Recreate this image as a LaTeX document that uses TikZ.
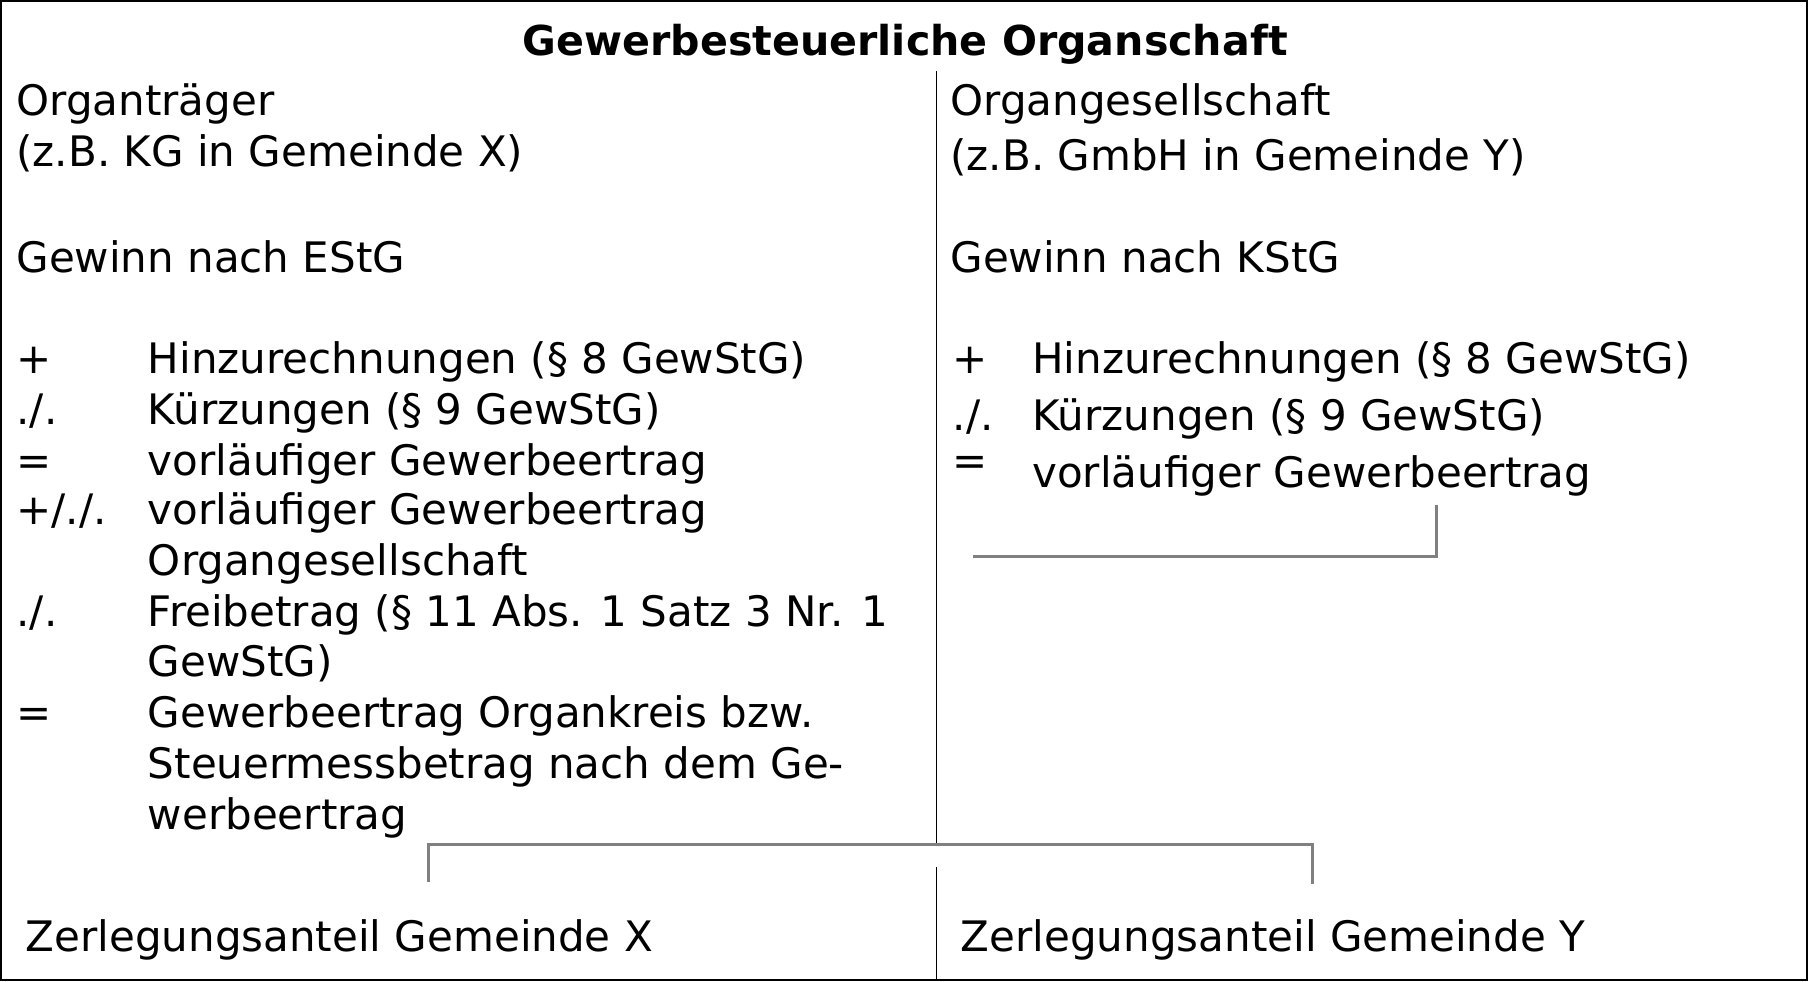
\documentclass[tikz,border=0pt]{standalone}
\usepackage{fontspec}
\setmainfont{DejaVu Sans}
\begin{document}
\begin{tikzpicture}[x=0.5766pt,y=-0.5766pt,
  txt/.style={anchor=base west,inner sep=0pt,font=\fontsize{21}{25.4}\selectfont},
  ttl/.style={anchor=base,inner sep=0pt,font=\fontsize{20.6}{25.4}\selectfont\bfseries},
  divider/.style={draw=black,line width=0.6pt},
  bracket/.style={draw=black!50,line width=1.5pt},
  frame/.style={draw=black,line width=1.2pt}]
\useasboundingbox (0,0) rectangle (1568,851);
\draw[frame] (1,1) rectangle (1567,850);
% title
\node[ttl] (title) at (785,48) {Gewerbesteuerliche Organschaft};
% left column
\node[txt] (ot) at (14,100) {Organträger};
\node[txt] (otx) at (14,144) {(z.B. KG in Gemeinde X)};
\node[txt] (estg) at (14,236) {Gewinn nach EStG};
\node[txt] (ls1) at (14,324) {+};
\node[txt] (lt1) at (128,324) {Hinzurechnungen (§ 8 GewStG)};
\node[txt] (ls2) at (14,368) {./.};
\node[txt] (lt2) at (128,368) {Kürzungen (§ 9 GewStG)};
\node[txt] (ls3) at (14,412) {=};
\node[txt] (lt3) at (128,412) {vorläufiger Gewerbeertrag};
\node[txt] (ls4) at (14,455) {+/./.};
\node[txt] (lt4) at (128,455) {vorläufiger Gewerbeertrag};
\node[txt] (lt4b) at (128,499) {Organgesellschaft};
\node[txt] (ls5) at (14,543) {./.};
\node[txt] (lt5) at (128,543) {Freibetrag (§ 11 Abs. 1 Satz 3 Nr. 1};
\node[txt] (lt5b) at (128,587) {GewStG)};
\node[txt] (ls6) at (14,631) {=};
\node[txt] (lt6) at (128,631) {Gewerbeertrag Organkreis bzw.};
\node[txt] (lt6b) at (128,675) {Steuermessbetrag nach dem Ge-};
\node[txt] (lt6c) at (128,719) {werbeertrag};
% right column
\node[txt] (og) at (824,100) {Organgesellschaft};
\node[txt] (ogy) at (824,148) {(z.B. GmbH in Gemeinde Y)};
\node[txt] (kstg) at (824,236) {Gewinn nach KStG};
\node[txt] (rs1) at (826,324) {+};
\node[txt] (rt1) at (895,324) {Hinzurechnungen (§ 8 GewStG)};
\node[txt] (rs2) at (826,373) {./.};
\node[txt] (rt2) at (895,373) {Kürzungen (§ 9 GewStG)};
\node[txt] (rs3) at (826,412) {=};
\node[txt] (rt3) at (895,423) {vorläufiger Gewerbeertrag};
% bottom
\node[txt] (zx) at (22,825) {Zerlegungsanteil Gemeinde X};
\node[txt] (zy) at (833,825) {Zerlegungsanteil Gemeinde Y};
% divider
\coordinate (dtop) at (812,62);
\coordinate (dmid) at (812,731);
\coordinate (dlow) at (812,752);
\coordinate (dbot) at (812,851);
\draw[divider] (dtop) -- (dmid);
\draw[divider] (dlow) -- (dbot);
% right bracket
\coordinate (rb1) at (1246,438);
\coordinate (rb2) at (844,483);
\draw[bracket] (rb1) |- (rb2);
% bottom bracket
\coordinate (bl) at (372,765);
\coordinate (bm) at (755,732);
\coordinate (br) at (1138,767);
\draw[bracket] (bl) |- (bm) -| (br);
\end{tikzpicture}
\end{document}
